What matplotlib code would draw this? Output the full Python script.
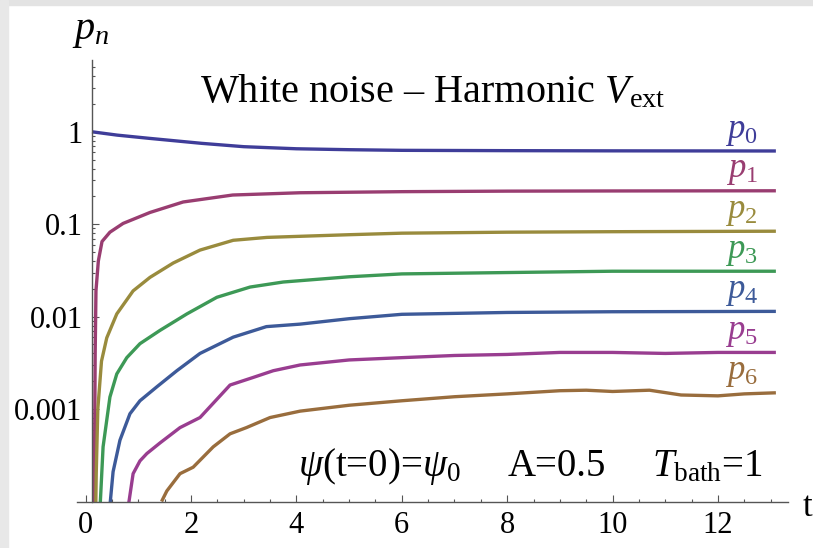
import matplotlib
matplotlib.use("Agg")
import matplotlib.pyplot as plt
from matplotlib.patches import Rectangle
from matplotlib.ticker import LogLocator, MultipleLocator, NullFormatter

plt.rcParams['font.family'] = ['Liberation Serif', 'DejaVu Serif']
plt.rcParams['mathtext.fontset'] = 'custom'
plt.rcParams['mathtext.rm'] = 'Liberation Serif'
plt.rcParams['mathtext.it'] = 'Liberation Serif:italic'

# occupation probabilities p_n(t)
t0 = [0.12, 0.6, 1.2, 2.2, 3.0, 4.0, 5.0, 6.0, 8.0, 10.0, 13.1]
p0 = [1.0, 0.92, 0.85, 0.75, 0.69, 0.655, 0.64, 0.63, 0.625, 0.622, 0.62]

t1 = [0.16, 0.18, 0.195, 0.24, 0.31, 0.46, 0.71, 1.22, 1.85, 2.79, 4.07, 6, 8, 10, 13.1]
p1 = [5e-5, 0.004, 0.019, 0.04, 0.065, 0.082, 0.102, 0.134, 0.174, 0.207, 0.219, 0.225, 0.228, 0.229, 0.23]

t2 = [0.185, 0.20, 0.23, 0.30, 0.40, 0.59, 0.90, 1.22, 1.66, 2.17, 2.80, 3.44, 4.07, 5, 6, 8, 10, 13.1]
p2 = [5e-5, 2e-4, 0.001, 0.0033, 0.0059, 0.0107, 0.019, 0.0266, 0.038, 0.0525, 0.067, 0.072, 0.074,
      0.077, 0.080, 0.082, 0.083, 0.084]

t3 = [0.27, 0.33, 0.46, 0.59, 0.78, 1.03, 1.41, 1.92, 2.49, 3.12, 3.75, 4.07, 5, 6, 8, 10, 13.1]
p3 = [8e-5, 3.9e-4, 0.00135, 0.0024, 0.0036, 0.0051, 0.0071, 0.0107, 0.0162, 0.0209, 0.0237, 0.0245,
      0.027, 0.029, 0.030, 0.031, 0.031]

t4 = [0.46, 0.52, 0.65, 0.84, 1.03, 1.35, 1.73, 2.17, 2.80, 3.43, 4.07, 5, 6, 8, 10, 13.1]
p4 = [9e-5, 2.1e-4, 4.6e-4, 8.9e-4, 0.00123, 0.00174, 0.0026, 0.0040, 0.0060, 0.0078, 0.0083,
      0.0095, 0.0106, 0.0111, 0.0113, 0.0114]

t5 = [0.81, 0.90, 1.03, 1.16, 1.41, 1.79, 2.17, 2.74, 3.18, 3.56, 4.07, 5, 6, 7, 8, 9, 10, 11, 12, 13.1]
p5 = [9e-5, 2.0e-4, 2.75e-4, 3.3e-4, 4.3e-4, 6.3e-4, 8.1e-4, 0.00182, 0.0022, 0.0026, 0.0030,
      0.0034, 0.0036, 0.0038, 0.0039, 0.0041, 0.0041, 0.0040, 0.0041, 0.0041]

t6 = [1.44, 1.54, 1.79, 2.04, 2.42, 2.74, 3.05, 3.50, 4.07, 5, 6, 7, 8, 9, 9.5, 10, 10.7, 11.3, 12, 12.5, 13.1]
p6 = [1e-4, 1.3e-4, 2.0e-4, 2.35e-4, 3.9e-4, 5.4e-4, 6.3e-4, 8.1e-4, 9.5e-4, 0.0011, 0.00123,
      0.00136, 0.00146, 0.00158, 0.0016, 0.00155, 0.0016, 0.00142, 0.00139, 0.00146, 0.0015]

times = [t0, t1, t2, t3, t4, t5, t6]
probs = [p0, p1, p2, p3, p4, p5, p6]
labels = [r'$p_0$', r'$p_1$', r'$p_2$', r'$p_3$', r'$p_4$', r'$p_5$', r'$p_6$']
colors = ['#3f3d99', '#993d71', '#998b3d', '#3d9956', '#3d5a99', '#993d90', '#996d3d']

W, H = 813, 548
fig = plt.figure(figsize=(W / 100, H / 100), dpi=100)
ax = fig.add_axes([77 / W, 1 - 501.5 / H, (788 - 77) / W, (501.5 - 60) / H])

for t, p, lab, c in zip(times, probs, labels, colors):
    ax.plot(t, p, color=c, lw=2.4, solid_capstyle='butt')
    ax.annotate(lab, xy=(12.45, p[-1]), xytext=(0, 2.5), textcoords='offset points',
                ha='center', va='bottom', color=c, fontsize=25)

ax.set_yscale('log')
ax.set_xlim(-0.165, 13.33)
ax.set_ylim(1e-4, 5.98)

ax.spines['top'].set_visible(False)
ax.spines['right'].set_visible(False)
ax.spines['left'].set_position(('data', 0.125))
for s in ['left', 'bottom']:
    ax.spines[s].set_color('#555555')
    ax.spines[s].set_linewidth(1.0)

ax.set_xticks([0, 2, 4, 6, 8, 10, 12])
ax.xaxis.set_minor_locator(MultipleLocator(0.5))
ax.set_yticks([1e-3, 1e-2, 1e-1, 1])
ax.set_yticklabels(['0.001', '0.01', '0.1', '1'])
ax.yaxis.set_minor_locator(LogLocator(base=10, subs=range(2, 10), numticks=20))
ax.yaxis.set_minor_formatter(NullFormatter())
ax.tick_params(which='both', direction='in', color='#555555', width=0.8, labelsize=22)
ax.tick_params(which='major', length=5)
ax.tick_params(which='minor', length=2.5)
ax.tick_params(axis='x', pad=7)
ax.tick_params(axis='y', pad=7)

fig.text(91 / W, 1 - 31 / H, r'$p_n$', ha='center', va='center', fontsize=29)
fig.text(807 / W, 1 - 507 / H, 't', ha='center', va='center', fontsize=25)
fig.text(433 / W, 1 - 102 / H, r'White noise – Harmonic $V_{\rm ext}$', ha='center', va='baseline', fontsize=29)

# parameter line, three pieces
fig.text(298 / W, 1 - 476 / H, r'$\psi$(t=0)=$\psi_0$', ha='left', va='baseline', fontsize=28)
fig.text(508 / W, 1 - 476 / H, 'A=0.5', ha='left', va='baseline', fontsize=28)
fig.text(652 / W, 1 - 476 / H, r'$T_{\rm bath}$=1', ha='left', va='baseline', fontsize=28)

# light grey frame of the screenshot
fig.patches.append(Rectangle((0, 1 - 5 / H), 1, 5 / H, transform=fig.transFigure, color='#e3e3e3', zorder=-1))
fig.patches.append(Rectangle((0, 0), 8 / W, 1, transform=fig.transFigure, color='#e8e8e8', zorder=-1))

fig.savefig('out.png', dpi=100)
